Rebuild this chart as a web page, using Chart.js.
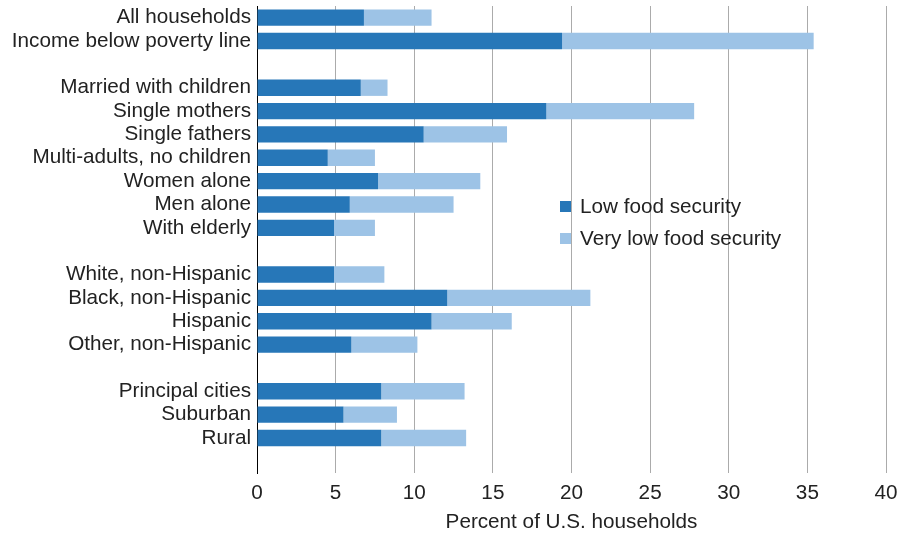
<!DOCTYPE html>
<html>
<head>
<meta charset="utf-8">
<script src="https://cdn.jsdelivr.net/npm/chart.js@4.4.1/dist/chart.umd.min.js"></script>
<style>
  html, body { margin: 0; padding: 0; background: #fff; }
  #wrap { position: relative; width: 903px; height: 535px; }
  #legend { position: absolute; left: 560px; top: 191px; font-family: "Liberation Sans", Arial, sans-serif; font-size: 20.7px; color: #222; }
  #legend div { height: 32px; line-height: 30px; white-space: nowrap; }
  #legend span.box { display: inline-block; width: 11px; height: 11px; margin-right: 9px; vertical-align: 1px; }
</style>
</head>
<body>
<div id="wrap">
  <canvas id="foodChart" width="903" height="535"></canvas>
  <div id="legend"></div>
</div>
<script>
// 카테고리 (빈 문자열은 그룹 사이 간격)
const categories = [
  'All households', 'Income below poverty line', '',
  'Married with children', 'Single mothers', 'Single fathers', 'Multi-adults, no children',
  'Women alone', 'Men alone', 'With elderly', '',
  'White, non-Hispanic', 'Black, non-Hispanic', 'Hispanic', 'Other, non-Hispanic', '',
  'Principal cities', 'Suburban', 'Rural', ''
];
const lowFoodSecurity = [
  6.8, 19.4, null,
  6.6, 18.4, 10.6, 4.5, 7.7, 5.9, 4.9, null,
  4.9, 12.1, 11.1, 6.0, null,
  7.9, 5.5, 7.9, null
];
const veryLowFoodSecurity = [
  4.3, 16.0, null,
  1.7, 9.4, 5.3, 3.0, 6.5, 6.6, 2.6, null,
  3.2, 9.1, 5.1, 4.2, null,
  5.3, 3.4, 5.4, null
];
const xTicks = [0, 5, 10, 15, 20, 25, 30, 35, 40];
const seriesNames = ['Low food security', 'Very low food security'];
const colors = ['#2777B8', '#9DC3E6'];

const font = { family: '"Liberation Sans", Arial, sans-serif', size: 20.7 };

new Chart(document.getElementById('foodChart'), {
  type: 'bar',
  data: {
    labels: categories,
    datasets: [
      { label: seriesNames[0], data: lowFoodSecurity, backgroundColor: colors[0], borderWidth: 0 },
      { label: seriesNames[1], data: veryLowFoodSecurity, backgroundColor: colors[1], borderWidth: 0 }
    ]
  },
  options: {
    indexAxis: 'y',
    responsive: false,
    animation: false,
    layout: { padding: { top: 6, right: 17, left: 0, bottom: 0 } },
    datasets: { bar: { barPercentage: 0.7, categoryPercentage: 1.0 } },
    plugins: { legend: { display: false }, tooltip: { enabled: false } },
    scales: {
      x: {
        stacked: true,
        min: 0, max: 40,
        afterBuildTicks: s => { s.ticks = xTicks.map(v => ({ value: v })); },
        afterFit: s => { s.height = 62; s.paddingRight = 0; s.paddingLeft = 0; },
        grid: { color: '#ABABAB', lineWidth: 1, drawTicks: false },
        border: { display: false },
        ticks: { font: font, color: '#222', padding: 8, maxRotation: 0 },
        title: { display: true, text: 'Percent of U.S. households', font: font, color: '#222', padding: { top: 4, bottom: 0 } }
      },
      y: {
        stacked: true,
        afterFit: s => { s.width = 257; s.paddingTop = 0; s.paddingBottom = 0; },
        grid: { display: false, drawTicks: false },
        border: { display: true, color: '#000', width: 1 },
        ticks: { font: font, color: '#222', padding: 6, autoSkip: false }
      }
    }
  }
});

document.getElementById('legend').innerHTML = seriesNames.map((n, i) =>
  `<div><span class="box" style="background:${colors[i]}"></span>${n}</div>`
).join('');
</script>
</body>
</html>
